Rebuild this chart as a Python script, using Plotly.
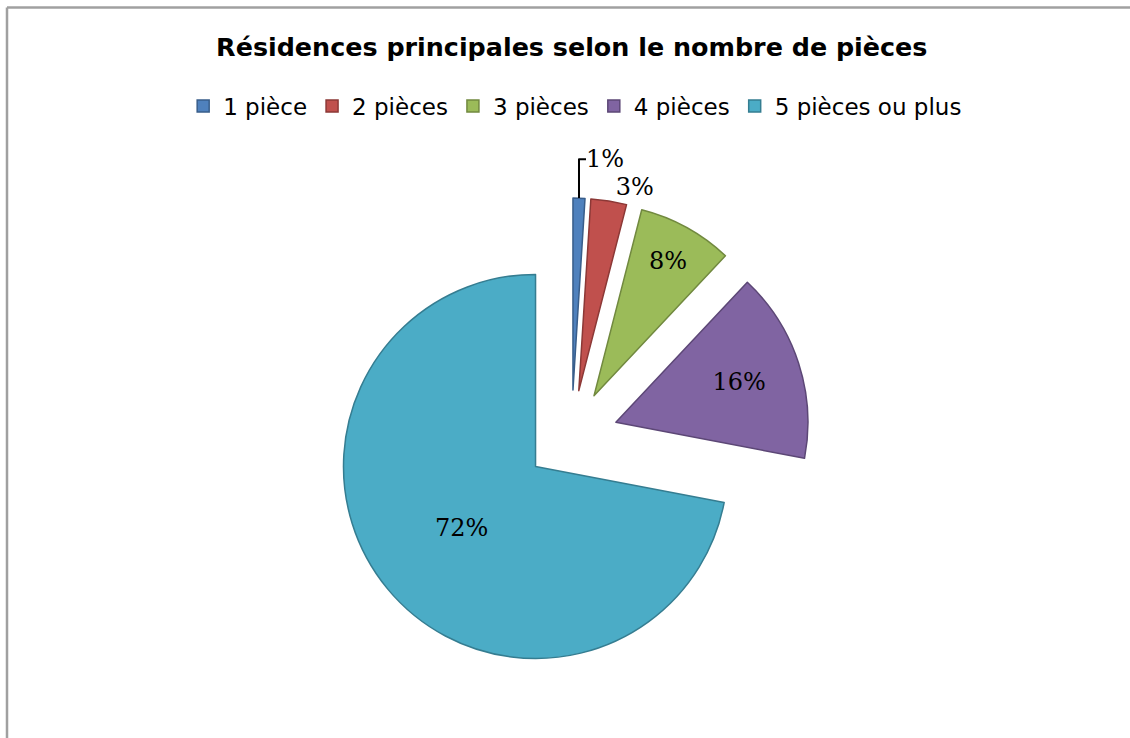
import plotly.graph_objects as go

# Résidences principales par nombre de pièces (parts en %)
categories = ["1 pièce", "2 pièces", "3 pièces", "4 pièces", "5 pièces ou plus"]
shares = [1, 3, 8, 16, 72]
label_positions = ["outside", "outside", "inside", "inside", "inside"]

fill_colors = ["#4F81BD", "#C0504D", "#9BBB59", "#8064A2", "#4BACC6"]
edge_colors = ["#385D8A", "#8C3836", "#71893F", "#5C4776", "#357D91"]

W, H = 1130, 738

fig = go.Figure(
    go.Pie(
        labels=categories,
        values=shares,
        sort=False,
        direction="clockwise",
        rotation=0,
        pull=0.243,
        marker=dict(colors=fill_colors, line=dict(color=edge_colors, width=1.5)),
        texttemplate="%{value}%",
        textposition=label_positions,
        insidetextorientation="horizontal",
        textfont=dict(family="DejaVu Serif, Liberation Serif, serif", size=24, color="#000000"),
        domain=dict(x=[0.2935, 0.7180], y=[0.0848, 0.7317]),
        hoverinfo="label+percent",
    )
)

fig.update_layout(
    width=W,
    height=H,
    margin=dict(l=0, r=0, t=0, b=0, autoexpand=False),
    paper_bgcolor="#FFFFFF",
    plot_bgcolor="#FFFFFF",
    title=dict(
        text="<b>Résidences principales selon le nombre de pièces</b>",
        x=0.506,
        xanchor="center",
        y=1 - 47 / H,
        yanchor="middle",
        yref="container",
        font=dict(family="DejaVu Sans, sans-serif", size=25.4, color="#000000"),
    ),
    showlegend=True,
    legend=dict(
        orientation="h",
        x=0.509,
        xanchor="center",
        y=1 - 106 / H,
        yanchor="middle",
        font=dict(family="DejaVu Sans, sans-serif", size=23, color="#000000"),
        itemwidth=30,
        traceorder="normal",
    ),
    shapes=[
        dict(type="line", xref="paper", yref="paper",
             x0=7 / W, x1=7 / W, y0=0, y1=1 - 7.5 / H,
             line=dict(color="#A0A0A0", width=2.5)),
        dict(type="line", xref="paper", yref="paper",
             x0=7 / W, x1=1, y0=1 - 7.5 / H, y1=1 - 7.5 / H,
             line=dict(color="#A0A0A0", width=2.5)),
    ],
)

fig.write_html("out.html")
